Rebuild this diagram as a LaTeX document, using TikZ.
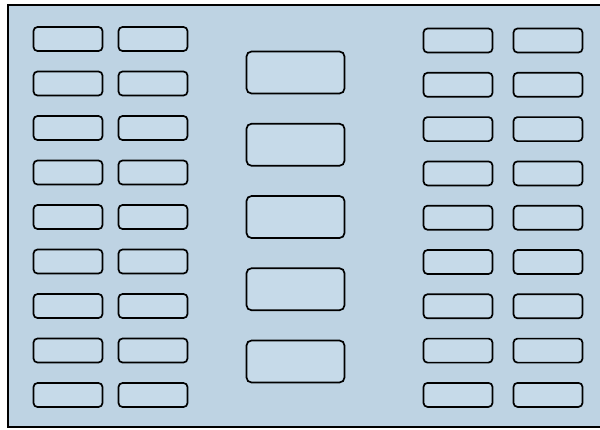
\documentclass[tikz,border=0pt]{standalone}
\definecolor{bgblue}{RGB}{190,211,227}
\definecolor{boxfill}{RGB}{198,218,233}
\begin{document}
\begin{tikzpicture}[x=1pt,y=-1pt,
  smallbox/.style={draw=black,line width=1.7pt,rounded corners=4pt,fill=boxfill,minimum width=69pt,minimum height=24pt,inner sep=0pt},
  bigbox/.style={draw=black,line width=1.7pt,rounded corners=5pt,fill=boxfill,minimum width=98pt,minimum height=42pt,inner sep=0pt}]
\useasboundingbox (0,0) rectangle (600,429);
\fill[white] (0,0) rectangle (600,429);
\fill[bgblue] (8,5) rectangle (600,427);
\draw[line width=1.2pt] (600,5) -- (8,5) -- (8,427) -- (600,427);
\foreach \i in {0,...,8}{
  \node[smallbox] (l1\i) at (68,{39+44.5*\i}) {};
  \node[smallbox] (l2\i) at (153,{39+44.5*\i}) {};
  \node[smallbox] (r1\i) at (458,{40.5+44.3*\i}) {};
  \node[smallbox] (r2\i) at (548,{40.5+44.3*\i}) {};
}
\foreach \i in {0,...,4}{
  \node[bigbox] (c\i) at (295.5,{72.5+72.25*\i}) {};
}
\end{tikzpicture}
\end{document}
